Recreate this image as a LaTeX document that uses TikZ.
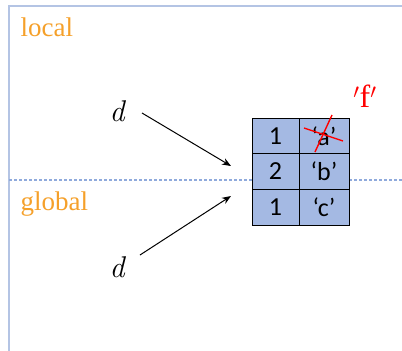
\documentclass[tikz,border=0pt]{standalone}
\usepackage{fontspec}
\setmainfont{Liberation Serif}
\newfontfamily\cellfont{Carlito}
\newfontfamily\lmfont{Latin Modern Roman}
\usetikzlibrary{arrows.meta}
\definecolor{framecol}{HTML}{B4C4E4}
\definecolor{dashcol}{HTML}{8FAADC}
\definecolor{cellfill}{HTML}{A4B9E3}
\definecolor{labcol}{HTML}{F5A02A}
\tikzset{
  cell/.style={draw=black, line width=1pt, fill=cellfill, minimum height=36pt, inner sep=0pt, font=\cellfont\fontsize{26}{28}\selectfont},
  cellA/.style={cell, minimum width=47pt},
  cellB/.style={cell, minimum width=50pt},
  region/.style={text=labcol, font=\fontsize{27}{30}\selectfont, anchor=west},
  dlab/.style={font=\lmfont\itshape\fontsize{30}{32}\selectfont},
  arr/.style={-{Stealth[length=9pt,width=7pt]}, line width=1pt},
  cross/.style={red, line width=1.4pt}
}
\begin{document}
\begin{tikzpicture}[x=1pt,y=-1pt]
\useasboundingbox (0,0) rectangle (402,351);
\draw[framecol, line width=2pt] (402,6) -- (9,6) -- (9,351);
\draw[dashcol, line width=1.2pt, dash pattern=on 3pt off 2pt] (9,180) -- (402,180);
\node[region] (local) at (17,27) {local};
\node[region] (global) at (17,204) {global};
\node[cellA] (c11) at (275.5,136) {1};
\node[cellB] (c12) at (324,136) {‘a’};
\node[cellA] (c21) at (275.5,171.5) {2};
\node[cellB] (c22) at (324,171.5) {‘b’};
\node[cellA] (c31) at (275.5,207.5) {1};
\node[cellB] (c32) at (324,207.5) {‘c’};
\draw[cross] ([shift={(-20,-8)}]c12.center) -- ([shift={(19,5)}]c12.center);
\draw[cross] ([shift={(8,-21)}]c12.center) -- ([shift={(-9,16)}]c12.center);
\node[text=red, font=\fontsize{32}{34}\selectfont] (f) at (365,96) {$^\prime$f$^\prime$};
\node[dlab] (d1) at (117,111) {d};
\node[dlab] (d2) at (117,267) {d};
\coordinate (t1) at (231,166);
\coordinate (t2) at (231,196);
\draw[arr] (142,113) -- (t1);
\draw[arr] (140,255) -- (t2);
\end{tikzpicture}
\end{document}
